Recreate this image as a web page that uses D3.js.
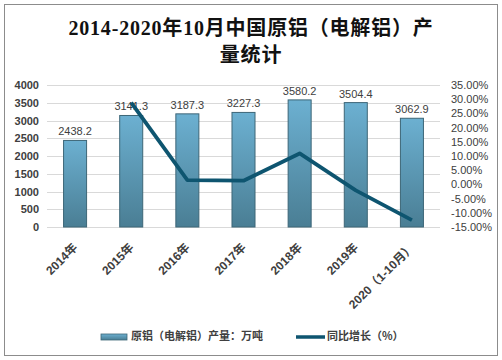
<!DOCTYPE html>
<html><head><meta charset="utf-8">
<script src="https://cdn.jsdelivr.net/npm/d3@7/dist/d3.min.js"></script>
<style>body{margin:0;background:#fff}svg{display:block}</style>
</head><body>
<script>
const categories = ["2014年","2015年","2016年","2017年","2018年","2019年","2020（1-10月）"];
const output = [2438.2,3141.3,3187.3,3227.3,3580.2,3504.4,3062.9];
const growth = [null,28.8,1.5,1.3,10.9,-2.1,-12.6];
const leftTicks = [0,500,1000,1500,2000,2500,3000,3500,4000];
const rightTicks = [-15,-10,-5,0,5,10,15,20,25,30,35];
const titleLines = ["2014-2020年10月中国原铝（电解铝）产","量统计"];
const legendLabels = ["原铝（电解铝）产量：万吨","同比增长（%）"];

const W=502,H=360;
const svg=d3.select("body").append("svg").attr("width",W).attr("height",H);
const defs=svg.append("defs");
const g1=defs.append("linearGradient").attr("id","bg").attr("x1",0).attr("x2",0).attr("y1",0).attr("y2",1);
g1.append("stop").attr("offset","0%").attr("stop-color","#6cb0d1");
g1.append("stop").attr("offset","100%").attr("stop-color","#4a7e94");
const g2=defs.append("linearGradient").attr("id","lg").attr("x1",0).attr("x2",0).attr("y1",0).attr("y2",1);
g2.append("stop").attr("offset","0%").attr("stop-color","#6cb0d1");
g2.append("stop").attr("offset","100%").attr("stop-color","#4a7e94");

svg.append("rect").attr("x",4.5).attr("y",4.5).attr("width",493).attr("height",351)
  .attr("fill","#fff").attr("stroke","#8c8c8c").attr("stroke-width",1);

svg.append("g").selectAll("text").data(titleLines).join("text")
  .attr("x",251).attr("y",(d,i)=>35+i*27).attr("text-anchor","middle")
  .attr("font-family","'Liberation Serif','Noto Sans CJK SC',serif")
  .attr("font-weight","bold").attr("font-size",20).attr("letter-spacing",0.8)
  .attr("fill","#111").text(d=>d);

const x0=47,x1=440,yTop=85,yBot=227;
const x=d3.scaleBand().domain(categories).range([x0,x1]).paddingInner(0.59).paddingOuter(0.295);
const yL=d3.scaleLinear().domain([0,4000]).range([yBot,yTop]);
const yR=d3.scaleLinear().domain([-15,35]).range([yBot,yTop]);

// grid
svg.append("g").selectAll("line").data(leftTicks).join("line")
  .attr("x1",x0).attr("x2",x1).attr("y1",d=>Math.round(yL(d))+0.5).attr("y2",d=>Math.round(yL(d))+0.5)
  .attr("stroke","#d9d9d9").attr("stroke-width",1);

// left axis
const axL=svg.append("g").attr("transform",`translate(${x0},0)`)
  .call(d3.axisLeft(yL).tickValues(leftTicks).tickSize(0).tickPadding(8).tickFormat(d3.format("d")));
axL.select(".domain").remove();
axL.selectAll("text").attr("font-family","Arial,'Liberation Sans',sans-serif").attr("font-size",11)
  .attr("font-weight","bold").attr("fill","#404040");

// right axis
const axR=svg.append("g").attr("transform",`translate(${x1},0)`)
  .call(d3.axisRight(yR).tickValues(rightTicks).tickSize(0).tickPadding(11).tickFormat(d=>d.toFixed(2)+"%"));
axR.select(".domain").remove();
axR.selectAll("text").attr("font-family","Arial,'Liberation Sans',sans-serif").attr("font-size",11)
  .attr("fill","#404040");

// bars
svg.append("g").selectAll("rect").data(output).join("rect")
  .attr("x",(d,i)=>x(categories[i])).attr("width",x.bandwidth())
  .attr("y",d=>yL(d)).attr("height",d=>yBot-yL(d))
  .attr("fill","url(#bg)").attr("stroke","#3d6677").attr("stroke-width",1);

// value labels
svg.append("g").selectAll("text").data(output).join("text")
  .attr("x",(d,i)=>x(categories[i])+x.bandwidth()/2).attr("y",d=>yL(d)-5)
  .attr("text-anchor","middle").attr("font-family","Arial,'Liberation Sans',sans-serif")
  .attr("font-size",11).attr("fill","#404040").text(d=>d.toFixed(1));

// line
const pts=growth.map((v,i)=>({v,c:categories[i]})).filter(p=>p.v!==null);
svg.append("path").datum(pts)
  .attr("d",d3.line().x(p=>x(p.c)+x.bandwidth()/2).y(p=>yR(p.v)))
  .attr("fill","none").attr("stroke","#0e5570").attr("stroke-width",3.8).attr("stroke-linejoin","round");

// x labels
svg.append("g").selectAll("text").data(categories).join("text")
  .attr("transform",d=>`translate(${x(d)+x.bandwidth()/2+1},${yBot+19}) rotate(-45)`)
  .attr("text-anchor","end").attr("dominant-baseline","middle")
  .attr("font-family","Arial,'Liberation Sans','Noto Sans CJK SC',sans-serif")
  .attr("font-size",12).attr("font-weight","bold").attr("fill","#404040").text(d=>d);

// legend
const lg=svg.append("g");
lg.append("rect").attr("x",101).attr("y",334).attr("width",26).attr("height",6)
  .attr("fill","url(#lg)").attr("stroke","#3d6677").attr("stroke-width",0.8);
lg.append("text").attr("x",131).attr("y",337).attr("dominant-baseline","middle")
  .attr("font-family","'Noto Sans CJK SC',sans-serif").attr("font-size",11).attr("font-weight","bold")
  .attr("fill","#404040").text(legendLabels[0]);
lg.append("line").attr("x1",296).attr("x2",325).attr("y1",337).attr("y2",337)
  .attr("stroke","#0e5570").attr("stroke-width",3.5);
lg.append("text").attr("x",327).attr("y",337).attr("dominant-baseline","middle")
  .attr("font-family","'Noto Sans CJK SC',sans-serif").attr("font-size",11).attr("font-weight","bold")
  .attr("fill","#404040").text(legendLabels[1]);
</script>
</body></html>
